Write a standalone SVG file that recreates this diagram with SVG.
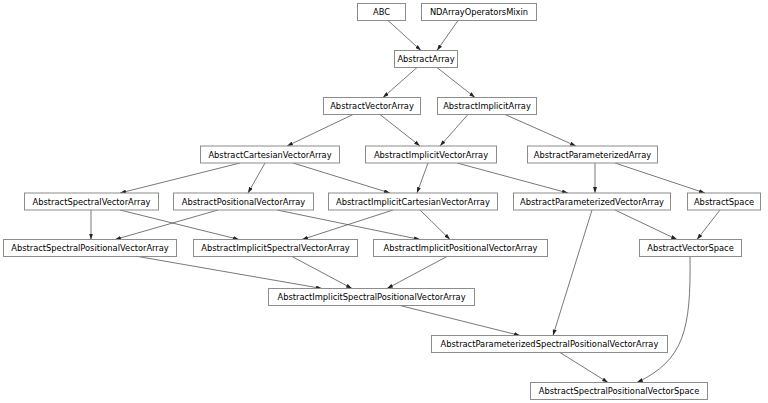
<svg xmlns="http://www.w3.org/2000/svg" width="768" height="403" viewBox="0 0 768 403">
<style>
  .n rect { fill: #ffffff; stroke: #8c8c8c; stroke-width: 1; }
  .n text { font-family: "DejaVu Sans", "Liberation Sans", sans-serif; font-size: 8.3px; fill: #000000; text-anchor: middle; dominant-baseline: central; }
  #edges path { fill: none; stroke: #555555; stroke-width: 0.8; marker-end: url(#arr); }
</style>
<defs>
  <marker id="arr" markerUnits="userSpaceOnUse" markerWidth="6" markerHeight="4" refX="6" refY="2" orient="auto">
    <path d="M0,0 L6,2 L0,4 z" fill="#222222"/>
  </marker>
</defs>
<rect width="768" height="403" fill="#ffffff"/>
<g id="edges">
  <path d="M388,20.5 L421,50.5"/>
  <path d="M458,20.5 L437,50.5"/>
  <path d="M417,67.5 L383,97.5"/>
  <path d="M437,67.5 L475,97.5"/>
  <path d="M353,114.5 L287,146"/>
  <path d="M380,114.5 L420,146"/>
  <path d="M468,114.5 L440,146"/>
  <path d="M505,114.5 L576,146"/>
  <path d="M240,163 L120,193"/>
  <path d="M265,163 L248,193"/>
  <path d="M293,163 L390,193"/>
  <path d="M428,163 L417,193"/>
  <path d="M457,163 L568,193"/>
  <path d="M595,163 L595,193"/>
  <path d="M615,163 L705,193"/>
  <path d="M91,210 L91,239.5"/>
  <path d="M120,210 L239,239.5"/>
  <path d="M218,210 L115,239.5"/>
  <path d="M277,210 L420,239.5"/>
  <path d="M393,210 L302,239.5"/>
  <path d="M420,210 L450,239.5"/>
  <path d="M615,210 L677,239.5"/>
  <path d="M592,210 L553,335.5"/>
  <path d="M720,210 L697,239.5"/>
  <path d="M138,256.5 L322,288.5"/>
  <path d="M292,256.5 L352,288.5"/>
  <path d="M447,256.5 L387,288.5"/>
  <path d="M400,305.5 L520,335.5"/>
  <path d="M560,352.5 L608,382.5"/>
  <path d="M690,256.5 C691,330 684,360 637,382.5"/>
</g>
<g id="ABC" class="n"><rect x="357.5" y="3.5" width="48" height="17"/><text x="381.5" y="12">ABC</text></g>
<g id="NDArrayOperatorsMixin" class="n"><rect x="421.5" y="3.5" width="115" height="17"/><text x="479" y="12">NDArrayOperatorsMixin</text></g>
<g id="AbstractArray" class="n"><rect x="394.5" y="50.5" width="63" height="17"/><text x="426" y="59">AbstractArray</text></g>
<g id="AbstractVectorArray" class="n"><rect x="323.5" y="97.5" width="97" height="17"/><text x="372" y="106">AbstractVectorArray</text></g>
<g id="AbstractImplicitArray" class="n"><rect x="437.5" y="97.5" width="99" height="17"/><text x="487" y="106">AbstractImplicitArray</text></g>
<g id="AbstractCartesianVectorArray" class="n"><rect x="200.5" y="146" width="139" height="17"/><text x="270" y="154.5">AbstractCartesianVectorArray</text></g>
<g id="AbstractImplicitVectorArray" class="n"><rect x="365.5" y="146" width="131" height="17"/><text x="431" y="154.5">AbstractImplicitVectorArray</text></g>
<g id="AbstractParameterizedArray" class="n"><rect x="527.5" y="146" width="130" height="17"/><text x="592.5" y="154.5">AbstractParameterizedArray</text></g>
<g id="AbstractSpectralVectorArray" class="n"><rect x="24.5" y="193" width="134" height="17"/><text x="91.5" y="201.5">AbstractSpectralVectorArray</text></g>
<g id="AbstractPositionalVectorArray" class="n"><rect x="173.5" y="193" width="140" height="17"/><text x="243.5" y="201.5">AbstractPositionalVectorArray</text></g>
<g id="AbstractImplicitCartesianVectorArray" class="n"><rect x="328.5" y="193" width="169" height="17"/><text x="413" y="201.5">AbstractImplicitCartesianVectorArray</text></g>
<g id="AbstractParameterizedVectorArray" class="n"><rect x="513.5" y="193" width="157" height="17"/><text x="592" y="201.5">AbstractParameterizedVectorArray</text></g>
<g id="AbstractSpace" class="n"><rect x="687.5" y="193" width="73" height="17"/><text x="724" y="201.5">AbstractSpace</text></g>
<g id="AbstractSpectralPositionalVectorArray" class="n"><rect x="3.5" y="239.5" width="173" height="17"/><text x="90" y="248">AbstractSpectralPositionalVectorArray</text></g>
<g id="AbstractImplicitSpectralVectorArray" class="n"><rect x="193.5" y="239.5" width="164" height="17"/><text x="275.5" y="248">AbstractImplicitSpectralVectorArray</text></g>
<g id="AbstractImplicitPositionalVectorArray" class="n"><rect x="373.5" y="239.5" width="174" height="17"/><text x="460.5" y="248">AbstractImplicitPositionalVectorArray</text></g>
<g id="AbstractVectorSpace" class="n"><rect x="639.5" y="239.5" width="102" height="17"/><text x="690.5" y="248">AbstractVectorSpace</text></g>
<g id="AbstractImplicitSpectralPositionalVectorArray" class="n"><rect x="268.5" y="288.5" width="206" height="17"/><text x="371.5" y="297">AbstractImplicitSpectralPositionalVectorArray</text></g>
<g id="AbstractParameterizedSpectralPositionalVectorArray" class="n"><rect x="431.5" y="335.5" width="236" height="17"/><text x="549.5" y="344">AbstractParameterizedSpectralPositionalVectorArray</text></g>
<g id="AbstractSpectralPositionalVectorSpace" class="n"><rect x="530.5" y="382.5" width="177" height="17"/><text x="619" y="391">AbstractSpectralPositionalVectorSpace</text></g>
</svg>
